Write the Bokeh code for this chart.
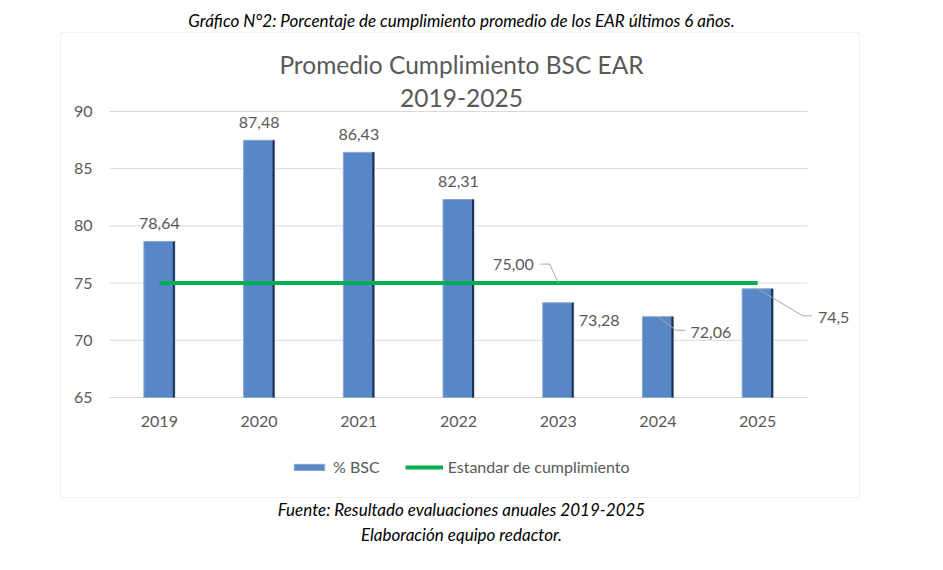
from bokeh.plotting import figure
from bokeh.models import (Range1d, FixedTicker, Label, BoxAnnotation, Arrow,
                          Legend, LegendItem)
from bokeh.embed import file_html
from bokeh.resources import INLINE

# ---- data ----
years = ["2019", "2020", "2021", "2022", "2023", "2024", "2025"]
bsc = [78.64, 87.48, 86.43, 82.31, 73.28, 72.06, 74.5]
bsc_labels = ["78,64", "87,48", "86,43", "82,31", "73,28", "72,06", "74,5"]
standard = [75.0, 75.0, 75.0, 75.0, 75.0, 75.0, 75.0]
standard_label = "75,00"
y_ticks = [65, 70, 75, 80, 85, 90]

caption = "Gráfico N°2: Porcentaje de cumplimiento promedio de los EAR últimos 6 años."
title1 = "Promedio Cumplimiento BSC EAR"
title2 = "2019-2025"
footer1 = "Fuente: Resultado evaluaciones anuales 2019-2025"
footer2 = "Elaboración equipo redactor."

# ---- geometry: plot area (in canvas px) ----
W, H = 941, 568
PL, PR, PT, PB = 109, 807, 111, 397
Y0, Y1 = 65, 90
NX = len(years)
SX = (PR - PL) / NX          # px per x unit
SY = (PB - PT) / (Y1 - Y0)   # px per y unit

def dx(px):
    return (px - PL) / SX

def dy(py):
    return Y0 + (PB - py) / SY

def dxu(px):
    return px / SX

def dyu(px):
    return px / SY

xs = [i + 0.5 for i in range(NX)]

FONT = "Lato"
GREY = "#595959"

p = figure(width=W, height=H, output_backend="svg", toolbar_location=None,
           x_range=Range1d(dx(0), dx(W)), y_range=Range1d(dy(H), dy(0)),
           min_border=0)
p.outline_line_color = None
p.background_fill_color = "white"
p.border_fill_color = "white"

# axes drawn at the plot-area edges (inside the canvas)
p.xaxis.fixed_location = Y0
p.yaxis.fixed_location = 0
p.xaxis.ticker = FixedTicker(ticks=xs)
p.xaxis.major_label_overrides = {x: y for x, y in zip(xs, years)}
p.yaxis.ticker = FixedTicker(ticks=y_ticks)
for ax in (p.xaxis[0], p.yaxis[0]):
    ax.axis_line_color = None
    ax.major_tick_line_color = None
    ax.minor_tick_line_color = None
    ax.major_label_text_font = FONT
    ax.major_label_text_font_size = "16px"
    ax.major_label_text_color = GREY
p.xaxis.major_label_standoff = 12
p.yaxis.major_label_standoff = 11
p.xgrid.grid_line_color = None
p.ygrid.grid_line_color = None

# horizontal grid lines limited to the plot area
p.segment(x0=[0] * len(y_ticks), y0=y_ticks, x1=[NX] * len(y_ticks), y1=y_ticks,
          line_color="#D9D9D9", line_width=1)

# bars
BW = 0.31
bars = p.vbar(x=xs, top=bsc, bottom=Y0, width=BW,
              fill_color="#5887C8", line_color="#8AA6D0", line_width=1)
p.segment(x0=[x + BW / 2 - dxu(1) for x in xs], y0=[Y0] * NX,
          x1=[x + BW / 2 - dxu(1) for x in xs], y1=bsc,
          line_color="#1F3350", line_width=2)

# standard line
std = p.line(x=xs, y=standard, line_color="#00B050", line_width=4)

# data labels above bars
for i in range(4):
    p.add_layout(Label(x=xs[i], y=bsc[i] + dyu(18), text=bsc_labels[i],
                       text_align="center", text_baseline="middle",
                       text_font=FONT, text_font_size="16px", text_color=GREY))

# labels beside bars
side = {4: (41, -18), 5: (53, -15.5), 6: (76, -28.5)}
for i, (ox, oy) in side.items():
    p.add_layout(Label(x=xs[i] + dxu(ox), y=bsc[i] + dyu(oy), text=bsc_labels[i],
                       text_align="center", text_baseline="middle",
                       text_font=FONT, text_font_size="16px", text_color=GREY))

LEAD = "#A6A6A6"
def leader(pts):
    for (x0, y0), (x1, y1) in zip(pts[:-1], pts[1:]):
        p.add_layout(Arrow(end=None, x_start=x0, y_start=y0, x_end=x1, y_end=y1,
                           line_color=LEAD, line_width=1))

leader([(xs[5], bsc[5]), (xs[5] + dxu(18), bsc[5] - dyu(13.5)),
        (xs[5] + dxu(27), bsc[5] - dyu(13.5))])
leader([(xs[6], bsc[6]), (xs[6] + dxu(45), bsc[6] - dyu(27)),
        (xs[6] + dxu(54), bsc[6] - dyu(27))])

# standard label
sx = xs[3] + dxu(100)
p.add_layout(Label(x=sx - dxu(45), y=standard[3] + dyu(19), text=standard_label,
                   text_align="center", text_baseline="middle",
                   text_font=FONT, text_font_size="16px", text_color=GREY))
leader([(sx, standard[3]), (sx - dxu(9), standard[3] + dyu(19)),
        (sx - dxu(18), standard[3] + dyu(19))])

# chart border
p.add_layout(BoxAnnotation(left=dx(60), right=dx(859), top=dy(32), bottom=dy(497),
                           fill_alpha=0, line_color="#D0D0D0", line_width=1,
                           level="underlay"))

# title
for t, py in ((title1, 64), (title2, 97)):
    p.add_layout(Label(x=dx(461), y=dy(py), text=t, text_align="center",
                       text_baseline="middle", text_font=FONT,
                       text_font_size="24.5px", text_color=GREY))

# caption & footer
for t, py in ((caption, 20), (footer1, 509), (footer2, 534)):
    p.add_layout(Label(x=dx(461), y=dy(py), text=t, text_align="center",
                       text_baseline="middle", text_font=FONT,
                       text_font_style="italic", text_font_size="17px",
                       text_color="#000000"))

# legend (below the axis, inside the chart box)
legend = Legend(items=[LegendItem(label="% BSC", renderers=[bars]),
                       LegendItem(label="Estandar de cumplimiento", renderers=[std])],
                orientation="horizontal", location=(290, H - 476),
                glyph_width=38, glyph_height=8, label_standoff=5, spacing=25,
                label_text_font=FONT, label_text_font_size="16px",
                label_text_color=GREY, border_line_color=None,
                background_fill_alpha=0, padding=0, margin=0)
p.add_layout(legend, "center")

open("out.html", "w").write(file_html(p, INLINE))
